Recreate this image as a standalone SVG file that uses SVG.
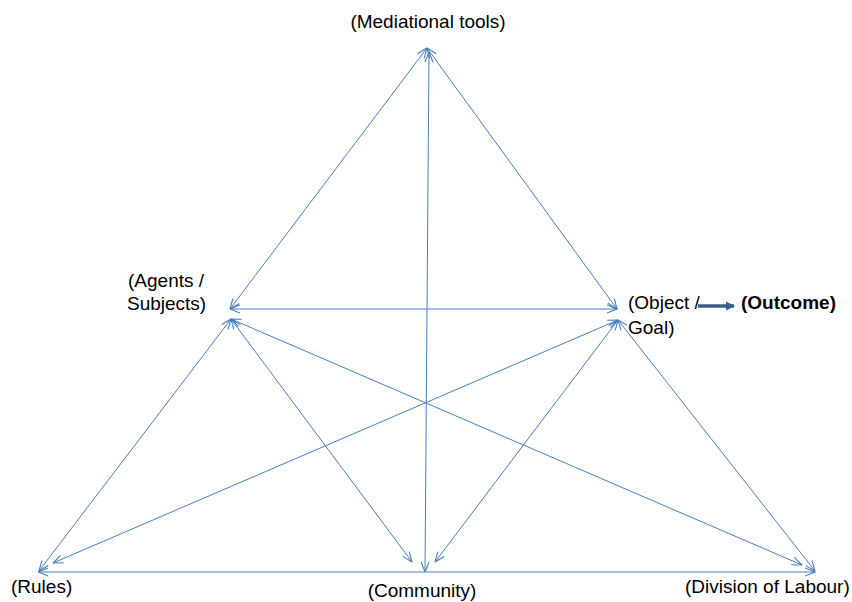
<svg xmlns="http://www.w3.org/2000/svg" width="852" height="602" viewBox="0 0 852 602">
  <defs>
    <style>
      .c { stroke: #4a7ebb; stroke-width: 1; fill: none; marker-start: url(#ah); marker-end: url(#ah); }
      .t { font-family: "Liberation Sans", Arial, sans-serif; font-size: 19px; fill: #000; }
      .b { font-weight: bold; }
    </style>
    <marker id="ah" viewBox="0 0 10 10" refX="10" refY="5" markerWidth="11" markerHeight="10" markerUnits="userSpaceOnUse" orient="auto-start-reverse">
      <path d="M0,1 L10,5 L0,9" fill="none" stroke="#4a7ebb" stroke-width="1.1"/>
    </marker>
    <marker id="oh" viewBox="0 0 10 10" refX="9" refY="5" markerWidth="9" markerHeight="9" markerUnits="userSpaceOnUse" orient="auto">
      <path d="M0,0 L10,5 L0,10 Z" fill="#385d8a"/>
    </marker>
  </defs>
  <rect width="852" height="602" fill="#ffffff"/>
  <g id="connectors">
    <line class="c" x1="427" y1="48" x2="230" y2="309"/>
    <line class="c" x1="427" y1="48" x2="617" y2="309"/>
    <line class="c" x1="429" y1="52" x2="425" y2="572"/>
    <line class="c" x1="230" y1="309" x2="617" y2="309"/>
    <line class="c" x1="231" y1="319" x2="39" y2="571"/>
    <line class="c" x1="231" y1="319" x2="412" y2="562"/>
    <line class="c" x1="231" y1="319" x2="802" y2="565"/>
    <line class="c" x1="618" y1="320" x2="53" y2="563"/>
    <line class="c" x1="618" y1="320" x2="435" y2="562"/>
    <line class="c" x1="618" y1="320" x2="815" y2="571"/>
    <line class="c" x1="38" y1="572" x2="815" y2="572"/>
    <line x1="698" y1="306" x2="734" y2="306" stroke="#385d8a" stroke-width="3.5" marker-end="url(#oh)"/>
  </g>
  <g id="node-mediational-tools">
    <text class="t" x="428" y="28" text-anchor="middle">(Mediational tools)</text>
  </g>
  <g id="node-agents-subjects">
    <text class="t" x="128" y="287">(Agents /</text>
    <text class="t" x="127" y="310">Subjects)</text>
  </g>
  <g id="node-object-goal">
    <text class="t" x="628" y="309">(Object /</text>
    <text class="t" x="628" y="334">Goal)</text>
  </g>
  <g id="node-outcome">
    <text class="t b" x="741" y="309">(Outcome)</text>
  </g>
  <g id="node-rules">
    <text class="t" x="11" y="593">(Rules)</text>
  </g>
  <g id="node-community">
    <text class="t" x="422" y="597" text-anchor="middle">(Community)</text>
  </g>
  <g id="node-division-of-labour">
    <text class="t" x="685" y="593">(Division of Labour)</text>
  </g>
</svg>
